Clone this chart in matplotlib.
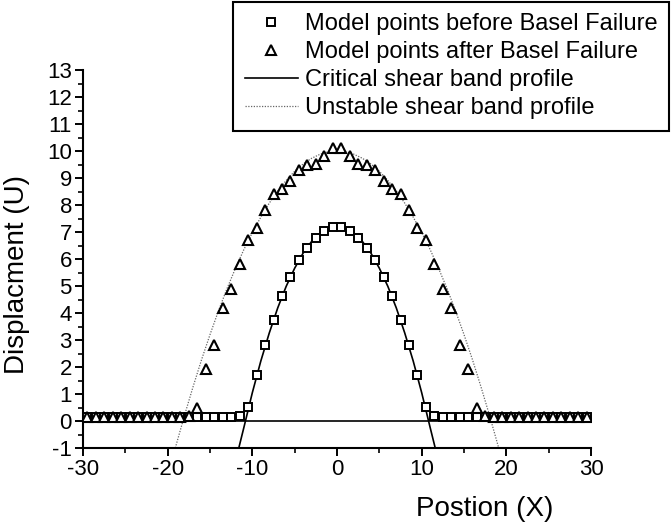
import numpy as np
import matplotlib

matplotlib.use("Agg")
import matplotlib.pyplot as plt
from matplotlib.ticker import MultipleLocator

plt.rcParams["font.family"] = ["Liberation Sans", "DejaVu Sans"]
plt.rcParams["axes.unicode_minus"] = False

# model points sit on half-integer positions
pos_right = [0.5, 1.5, 2.5, 3.5, 4.5, 5.5, 6.5, 7.5, 8.5, 9.5, 10.5, 11.5, 12.5,
             13.5, 14.5, 15.5, 16.5, 17.5, 18.5, 19.5, 20.5, 21.5, 22.5, 23.5,
             24.5, 25.5, 26.5, 27.5, 28.5, 29.5]
before_right = [7.18, 7.05, 6.79, 6.42, 5.95, 5.35, 4.62, 3.75, 2.80, 1.71, 0.52,
                0.20, 0.15, 0.15, 0.15, 0.15, 0.15, 0.15, 0.15, 0.15, 0.15, 0.15,
                0.15, 0.15, 0.15, 0.15, 0.15, 0.15, 0.15, 0.15]
after_right = [10.13, 9.82, 9.52, 9.49, 9.30, 8.88, 8.60, 8.41, 7.80, 7.15, 6.71,
               5.80, 4.88, 4.17, 2.80, 1.92, 0.49, 0.20, 0.15, 0.15, 0.15, 0.15,
               0.15, 0.15, 0.15, 0.15, 0.15, 0.15, 0.15, 0.15]

# profile curves (right half, mirrored)
crit_x_right = [0, 1, 2, 3, 4, 5, 6, 7, 8, 9, 10, 11, 11.6]
crit_y_right = [7.20, 7.14, 6.95, 6.65, 6.22, 5.66, 4.99, 4.19, 3.26, 2.22, 1.05,
                -0.24, -1.0]
unst_x_right = [0, 1, 2, 3, 4, 5, 6, 7, 8, 9, 10, 11, 12, 13, 14, 15, 16, 17,
                18, 19.1]
unst_y_right = [10.0, 9.97, 9.88, 9.73, 9.52, 9.25, 8.91, 8.52, 8.07, 7.55, 6.98,
                6.35, 5.65, 4.90, 4.08, 3.20, 2.27, 1.27, 0.22, -1.0]


def mirror(xs, ys):
    xs = np.asarray(xs, float)
    ys = np.asarray(ys, float)
    return np.concatenate([-xs[::-1], xs]), np.concatenate([ys[::-1], ys])


px, before = mirror(pos_right, before_right)
_, after = mirror(pos_right, after_right)
cx, cy = mirror(crit_x_right, crit_y_right)
ux, uy = mirror(unst_x_right, unst_y_right)

fig = plt.figure(figsize=(6.71, 5.28), dpi=100)
ax = fig.add_axes([0.1237, 0.1515, 0.7571, 0.7159])

ax.hlines(0, -30, 30, color="black", lw=1.2, zorder=1)
ax.plot(cx, cy, color="black", lw=1.2, label="Critical shear band profile", zorder=2)
ax.plot(ux, uy, color="#666666", lw=0.9, ls=(0, (1, 1.2)),
        label="Unstable shear band profile", zorder=2)
ax.plot(px, before, ls="none", marker="s", ms=5.5, mfc="white", mec="black",
        mew=1.4, label="Model points before Basel Failure", zorder=3)
ax.plot(px, after, ls="none", marker="^", ms=6.5, mfc="white", mec="black",
        mew=1.5, label="Model points after Basel Failure", zorder=4)

ax.set_xlim(-30, 30)
ax.set_ylim(-1, 13)
ax.xaxis.set_major_locator(MultipleLocator(10))
ax.xaxis.set_minor_locator(MultipleLocator(5))
ax.yaxis.set_major_locator(MultipleLocator(1))
ax.yaxis.set_minor_locator(MultipleLocator(0.5))
for side in ("top", "right"):
    ax.spines[side].set_visible(False)
for side in ("left", "bottom"):
    ax.spines[side].set_linewidth(1.5)
ax.tick_params(which="major", direction="out", length=6, width=1.4, labelsize=16,
               pad=2)
ax.tick_params(which="minor", direction="out", length=3.5, width=1.2)
ax.set_xlabel("Postion (X)", fontsize=20)
ax.set_ylabel("Displacment (U)", fontsize=20)
ax.xaxis.set_label_coords(0.79, -0.128)
ax.yaxis.set_label_coords(-0.104, 0.46)

handles, labels = ax.get_legend_handles_labels()
order = [2, 3, 0, 1]
leg = fig.legend([handles[i] for i in order], [labels[i] for i in order],
                 loc="upper left", bbox_to_anchor=(0.347, 0.997), fontsize=17,
                 frameon=True, fancybox=False, framealpha=1, edgecolor="black",
                 borderpad=0.5, borderaxespad=0, handlelength=2.25,
                 handletextpad=0.3, labelspacing=0.25)
leg.get_frame().set_linewidth(1.5)

fig.savefig("out.png", dpi=100)
